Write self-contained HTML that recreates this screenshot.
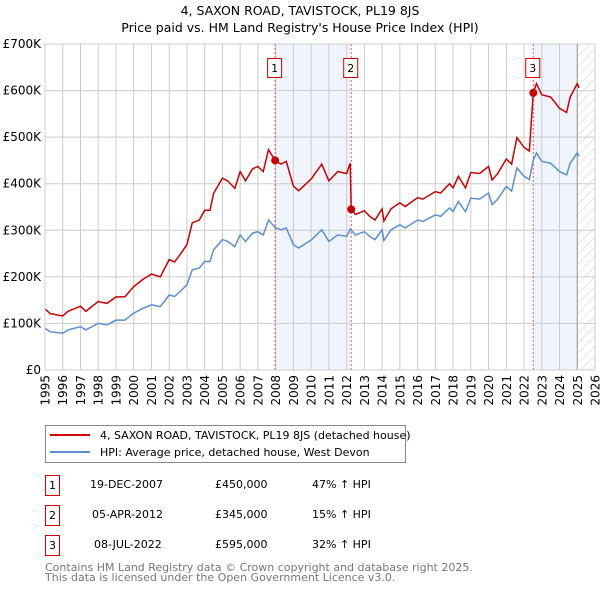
<!DOCTYPE html>
<html><head><meta charset="utf-8"><style>
body{margin:0;background:#fff;}
svg text{font-family:"DejaVu Sans","Liberation Sans",sans-serif;}
</style></head><body>
<svg id="chart" width="600" height="590" viewBox="0 0 600 590" xmlns="http://www.w3.org/2000/svg">
<text x="300" y="15" text-anchor="middle" font-size="12.5" fill="#000">4, SAXON ROAD, TAVISTOCK, PL19 8JS</text>
<text x="300" y="32" text-anchor="middle" font-size="12.5" fill="#000">Price paid vs. HM Land Registry's House Price Index (HPI)</text>
<g id="plot"></g>
<g>
<rect x="45.5" y="425.5" width="360" height="37" fill="#fff" stroke="#888"/>
<line x1="50" y1="435" x2="90" y2="435" stroke="#cc0000" stroke-width="2"/>
<text x="100" y="439" font-size="11">4, SAXON ROAD, TAVISTOCK, PL19 8JS (detached house)</text>
<line x1="50" y1="452" x2="90" y2="452" stroke="#5b8fd1" stroke-width="2"/>
<text x="100" y="456" font-size="11">HPI: Average price, detached house, West Devon</text>
</g>
<g font-size="11">
<rect x="45.5" y="475.5" width="14" height="20" fill="#fff" stroke="#cc0000"/><text x="52.5" y="489" text-anchor="middle">1</text>
<text x="90" y="488">19-DEC-2007</text>
<text x="215" y="488">£450,000</text>
<text x="312" y="488">47% ↑ HPI</text>
<rect x="45.5" y="505.5" width="14" height="20" fill="#fff" stroke="#cc0000"/><text x="52.5" y="519" text-anchor="middle">2</text>
<text x="92" y="518">05-APR-2012</text>
<text x="215" y="518">£345,000</text>
<text x="312" y="518">15% ↑ HPI</text>
<rect x="45.5" y="535.5" width="14" height="20" fill="#fff" stroke="#cc0000"/><text x="52.5" y="549" text-anchor="middle">3</text>
<text x="94" y="548">08-JUL-2022</text>
<text x="215" y="548">£595,000</text>
<text x="312" y="548">32% ↑ HPI</text>
</g>
<text x="45" y="571" font-size="11" fill="#777">Contains HM Land Registry data © Crown copyright and database right 2025.</text>
<text x="45" y="581" font-size="11" fill="#777">This data is licensed under the Open Government Licence v3.0.</text>
</svg>
<script>
const years=[1995.0,1995.3,1996.0,1996.3,1997.0,1997.3,1998.0,1998.5,1999.0,1999.5,2000.0,2000.5,2001.0,2001.5,2002.0,2002.3,2002.6,2003.0,2003.3,2003.7,2004.0,2004.3,2004.5,2005.0,2005.3,2005.7,2006.0,2006.3,2006.7,2007.0,2007.3,2007.6,2007.97,2008.3,2008.6,2009.0,2009.3,2010.0,2010.6,2011.0,2011.5,2012.0,2012.2,2012.26,2012.5,2013.0,2013.3,2013.6,2014.0,2014.1,2014.5,2015.0,2015.3,2016.0,2016.3,2017.0,2017.3,2017.8,2018.0,2018.3,2018.7,2019.0,2019.5,2020.0,2020.2,2020.5,2021.0,2021.3,2021.6,2022.0,2022.3,2022.52,2022.7,2023.0,2023.5,2024.0,2024.4,2024.6,2025.0,2025.1];
const hpiValues=[89.5,82,79,86,93,86,100,97,107,107,122,132,140,136,161,158,168,183,215,219,233,233,258,280,276,265,290,276,294,297,290,322,306,301,305,269,262,279,301,276,290,287,302,300,290,297,287,280,301,278,301,312,305,322,319,333,330,348,340,362,340,369,367,380,355,366,394,384,434,416,409,451,466,448,444,426,419,444,466,459];
const priceValues=[131,121,116,126,137,126,147,143,157,157,179,194,206,200,237,232,247,269,316,322,343,343,379,412,406,390,426,406,432,437,426,473,450,442,448,395,385,410,442,406,426,422,444,345,334,342,330,322,346,320,346,359,351,370,367,383,380,400,391,416,391,424,422,437,408,421,453,442,499,478,470,595,615,591,586,562,553,586,615,606];
const saleYears=[2007.97,2012.26,2022.52];
const salePrices=[450,345,595];
const saleLabels=["1","2","3"];
const yTicks=[0,100,200,300,400,500,600,700];
const yTickLabels=["£0","£100K","£200K","£300K","£400K","£500K","£600K","£700K"];
const xTicks=[1995,1996,1997,1998,1999,2000,2001,2002,2003,2004,2005,2006,2007,2008,2009,2010,2011,2012,2013,2014,2015,2016,2017,2018,2019,2020,2021,2022,2023,2024,2025,2026];
const dataEnd=2025.0;

const NS="http://www.w3.org/2000/svg";
const L=45,R=595,T=44,B=370;
const xS=y=>L+(y-1995)/(2026-1995)*(R-L);
const yS=v=>B-v/700*(B-T);
const g=document.getElementById('plot');
function mk(tag,attrs){const e=document.createElementNS(NS,tag);for(const k in attrs)e.setAttribute(k,attrs[k]);g.appendChild(e);return e;}
for(let i=0;i<saleYears.length;i++){
  const x1=xS(saleYears[i]);const x2=i+1<saleYears.length?xS(saleYears[i+1]):xS(dataEnd);
  if(i===1)continue;
  const r=mk('rect',{x:x1,y:T,width:x2-x1,height:B-T,fill:'#f0f4fd'});
  
  
}
const defs=document.createElementNS(NS,'defs');defs.innerHTML='<pattern id="h" width="7" height="7" patternUnits="userSpaceOnUse" patternTransform="rotate(45)"><line x1="0" y1="0" x2="0" y2="7" stroke="#ccc" stroke-width="1"/></pattern>';g.appendChild(defs);
const hr=mk('rect',{x:xS(dataEnd),y:T,width:R-xS(dataEnd),height:B-T,fill:'url(#h)'});


yTicks.forEach((v,i)=>{
  const l=mk('line',{x1:L,x2:R,y1:yS(v),y2:yS(v),stroke:'#ccc','stroke-width':1});
  
  
  const t=mk('text',{x:L-4,y:yS(v)+4,'text-anchor':'end','font-size':12});
  t.textContent=yTickLabels[i];
  
  
});
xTicks.forEach(y=>{
  const l=mk('line',{x1:xS(y),x2:xS(y),y1:T,y2:B,stroke:'#ccc','stroke-width':1});
  
  
  const t=mk('text',{x:0,y:0,'text-anchor':'end','font-size':12,transform:'translate('+(xS(y)+4.5)+','+(B+5)+') rotate(-90)'});
  t.textContent=y;
  
  
});
const el=mk('line',{x1:xS(dataEnd),x2:xS(dataEnd),y1:T,y2:B,stroke:'#999','stroke-width':1});


saleYears.forEach((y,i)=>{
  const l=mk('line',{x1:xS(y),x2:xS(y),y1:T,y2:B,stroke:'#f05050','stroke-width':1,'stroke-dasharray':'2,2'});
  
  
  const bx=mk('rect',{x:xS(y)-7.5,y:58.5,width:14,height:19,fill:'#fff',stroke:'#cc0000'});
  
  
  const t=mk('text',{x:xS(y)-0.5,y:72,'text-anchor':'middle','font-size':11});
  t.textContent=saleLabels[i];
  
  
});
const hp=mk('polyline',{points:years.map((y,i)=>xS(y)+','+yS(hpiValues[i])).join(' '),fill:'none',stroke:'#5b8fd1','stroke-width':1.5});


const pp=mk('polyline',{points:years.map((y,i)=>xS(y)+','+yS(priceValues[i])).join(' '),fill:'none',stroke:'#cc0000','stroke-width':1.5});


saleYears.forEach((y,i)=>{
  const c=mk('circle',{cx:xS(y),cy:yS(salePrices[i]),r:4,fill:'#cc0000'});
  
  
});
const fr=mk('rect',{x:L,y:T,width:R-L,height:B-T,fill:'none',stroke:'#ccc'});


</script>
</body></html>
